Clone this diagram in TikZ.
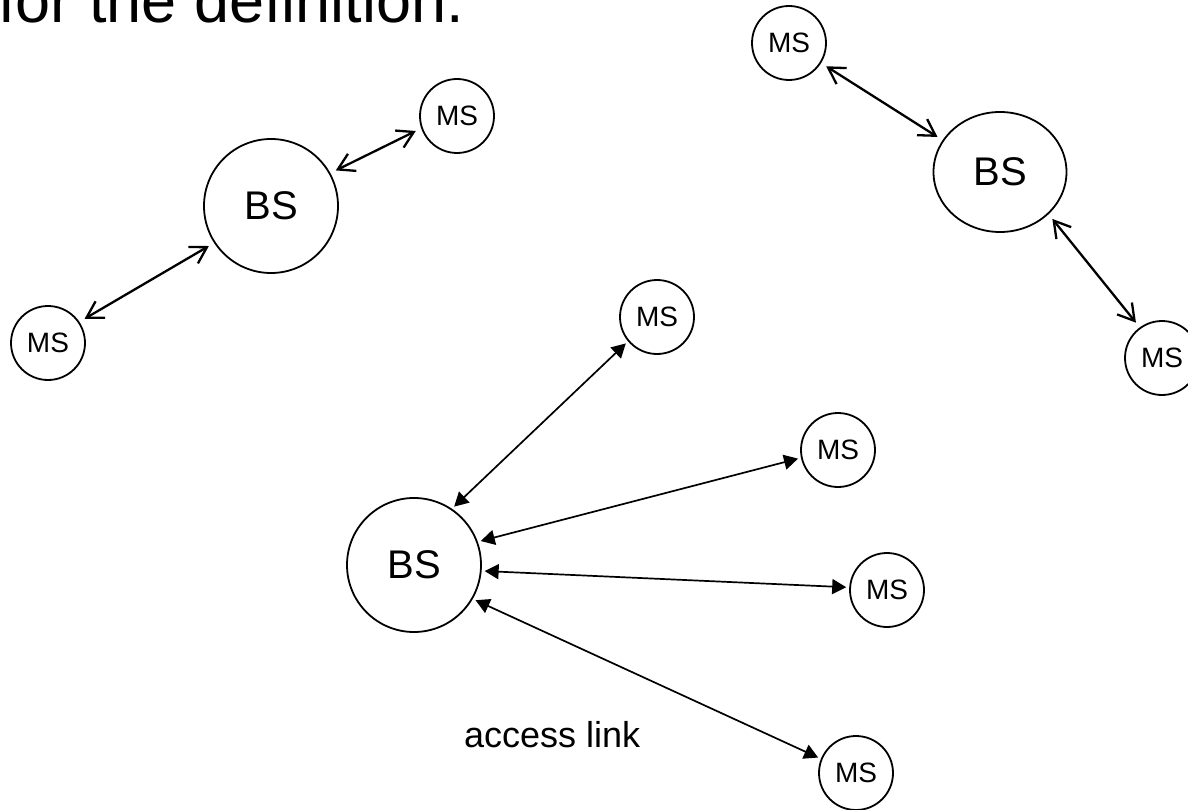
\documentclass[tikz,border=0pt]{standalone}
\usepackage{fontspec}
\setmainfont{Liberation Sans}
\usetikzlibrary{arrows.meta,shapes.geometric}

\begin{document}
\begin{tikzpicture}[x=1pt,y=-1pt,
  ms/.style={circle,draw,line width=1.8pt,inner sep=0pt,minimum size=74pt,font=\fontsize{28}{30}\selectfont},
  bs/.style={circle,draw,line width=1.8pt,inner sep=0pt,minimum size=134pt,font=\fontsize{40}{44}\selectfont},
  duplex/.style={<->,line width=2.3pt,>={Straight Barb[length=16pt,width=19pt]},shorten <=6pt,shorten >=6pt},
  access/.style={<->,line width=1.7pt,>={Triangle[length=14pt,width=15pt]},shorten <=3pt,shorten >=3pt}]
\useasboundingbox (0,0) rectangle (1188,810);
\node [anchor=base west,inner sep=0pt,font=\fontsize{63}{70}\selectfont] (title) at (-2,23) {for the definition.};

% left cell
\node [bs] (bsa) at (271,206) {BS};
\node [ms] (msa) at (457,116) {MS};
\node [ms] (msb) at (48,343) {MS};
\draw [duplex] (bsa.29) -- (msa.199);
\draw [duplex] (bsa.213) -- (msb.34);

% right cell
\node [bs,ellipse,minimum width=133pt,minimum height=120pt] (bsb) at (1000,172) {BS};
\node [ms] (msc) at (789,43) {MS};
\node [ms] (msd) at (1162,358) {MS};
\draw [duplex] (msc.-32) -- (bsb.151);
\draw [duplex] (bsb.-41) -- (msd.126);

% lower cell
\node [bs] (bsc) at (414,565) {BS};
\node [ms] (mse) at (657,317) {MS};
\node [ms] (msf) at (838,450) {MS};
\node [ms] (msg) at (887,590) {MS};
\node [ms] (msh) at (856,773) {MS};
\draw [access] (bsc.56) -- (mse.220);
\draw [access] (bsc.20) -- (msf.192);
\draw [access] (bsc.-5) -- (msg.176);
\draw [access] (bsc.-30) -- (msh.158);
\node [anchor=base west,inner sep=0pt,font=\fontsize{36}{40}\selectfont] (acc) at (464,747) {access link};
\end{tikzpicture}
\end{document}
